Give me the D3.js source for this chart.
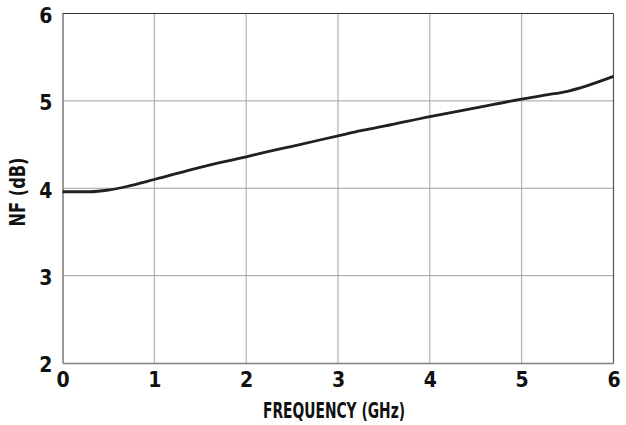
<!DOCTYPE html>
<html>
<head>
<meta charset="utf-8">
<script src="https://cdn.jsdelivr.net/npm/d3@7"></script>
<style>
  body { margin: 0; background: #fff; }
  text { font-family: "Liberation Sans Narrow", "DejaVu Sans", sans-serif; font-stretch: condensed; font-weight: bold; fill: #111; }
</style>
</head>
<body>
<div id="chart"></div>
<script>
var freq = [0, 0.3, 0.5, 0.7, 1.0, 1.5, 2.0, 2.2, 2.5, 3.0, 3.25, 3.5, 4.0, 4.5, 5.0, 5.25, 5.5, 6.0];
var nf   = [3.96, 3.96, 3.98, 4.02, 4.10, 4.24, 4.36, 4.41, 4.48, 4.60, 4.66, 4.71, 4.82, 4.92, 5.02, 5.065, 5.11, 5.28];
var xTicks = [0, 1, 2, 3, 4, 5, 6];
var yTicks = [2, 3, 4, 5, 6];

var W = 626, H = 425;
var m = {left: 62.5, top: 13.5, right: 12.5, bottom: 62};

var svg = d3.select("#chart").append("svg").attr("width", W).attr("height", H);

var x = d3.scaleLinear().domain([0, 6]).range([m.left, W - m.right]);
var y = d3.scaleLinear().domain([2, 6]).range([H - m.bottom, m.top]);

// grid
svg.append("g").selectAll("line").data(xTicks.slice(1, -1)).enter().append("line")
	.attr("x1", d => x(d)).attr("x2", d => x(d))
	.attr("y1", y(2)).attr("y2", y(6))
	.attr("stroke", "#a3a3a3").attr("stroke-width", 1);
svg.append("g").selectAll("line").data(yTicks.slice(1, -1)).enter().append("line")
	.attr("x1", x(0)).attr("x2", x(6))
	.attr("y1", d => y(d)).attr("y2", d => y(d))
	.attr("stroke", "#a3a3a3").attr("stroke-width", 1);

// frame
svg.append("line").attr("x1", x(0)).attr("x2", x(6)).attr("y1", y(6)).attr("y2", y(6))
	.attr("stroke", "#333").attr("stroke-width", 1.2);
svg.append("line").attr("x1", x(6)).attr("x2", x(6)).attr("y1", y(6)).attr("y2", y(2))
	.attr("stroke", "#555").attr("stroke-width", 1.2);

// axes
var xAxis = d3.axisBottom(x).tickValues(xTicks).tickFormat(d3.format("d")).tickSize(0).tickPadding(9);
var gx = svg.append("g").attr("transform", "translate(0," + y(2) + ")").call(xAxis);
gx.select(".domain").attr("stroke", "#808080").attr("stroke-width", 1.6);
gx.selectAll("text").style("font-size", "21px");

var yAxis = d3.axisLeft(y).tickValues(yTicks).tickFormat(d3.format("d")).tickSize(0).tickPadding(10);
var gy = svg.append("g").attr("transform", "translate(" + x(0) + ",0)").call(yAxis);
gy.select(".domain").attr("stroke", "#808080").attr("stroke-width", 1.6);
gy.selectAll("text").style("font-size", "21px").attr("dy", "0.42em");

// curve
var line = d3.line().x((d, i) => x(freq[i])).y(d => y(d)).curve(d3.curveMonotoneX);
svg.append("path").datum(nf).attr("d", line)
	.attr("fill", "none").attr("stroke", "#231f20").attr("stroke-width", 2.8);

// titles
svg.append("text").attr("x", 334).attr("y", 418).attr("text-anchor", "middle")
	.attr("textLength", 142).attr("lengthAdjust", "spacingAndGlyphs")
	.style("font-size", "22px").text("FREQUENCY (GHz)");
svg.append("text").attr("transform", "translate(25,192) rotate(-90)").attr("text-anchor", "middle")
	.attr("textLength", 69).attr("lengthAdjust", "spacingAndGlyphs")
	.style("font-size", "22px").text("NF (dB)");
</script>
</body>
</html>
